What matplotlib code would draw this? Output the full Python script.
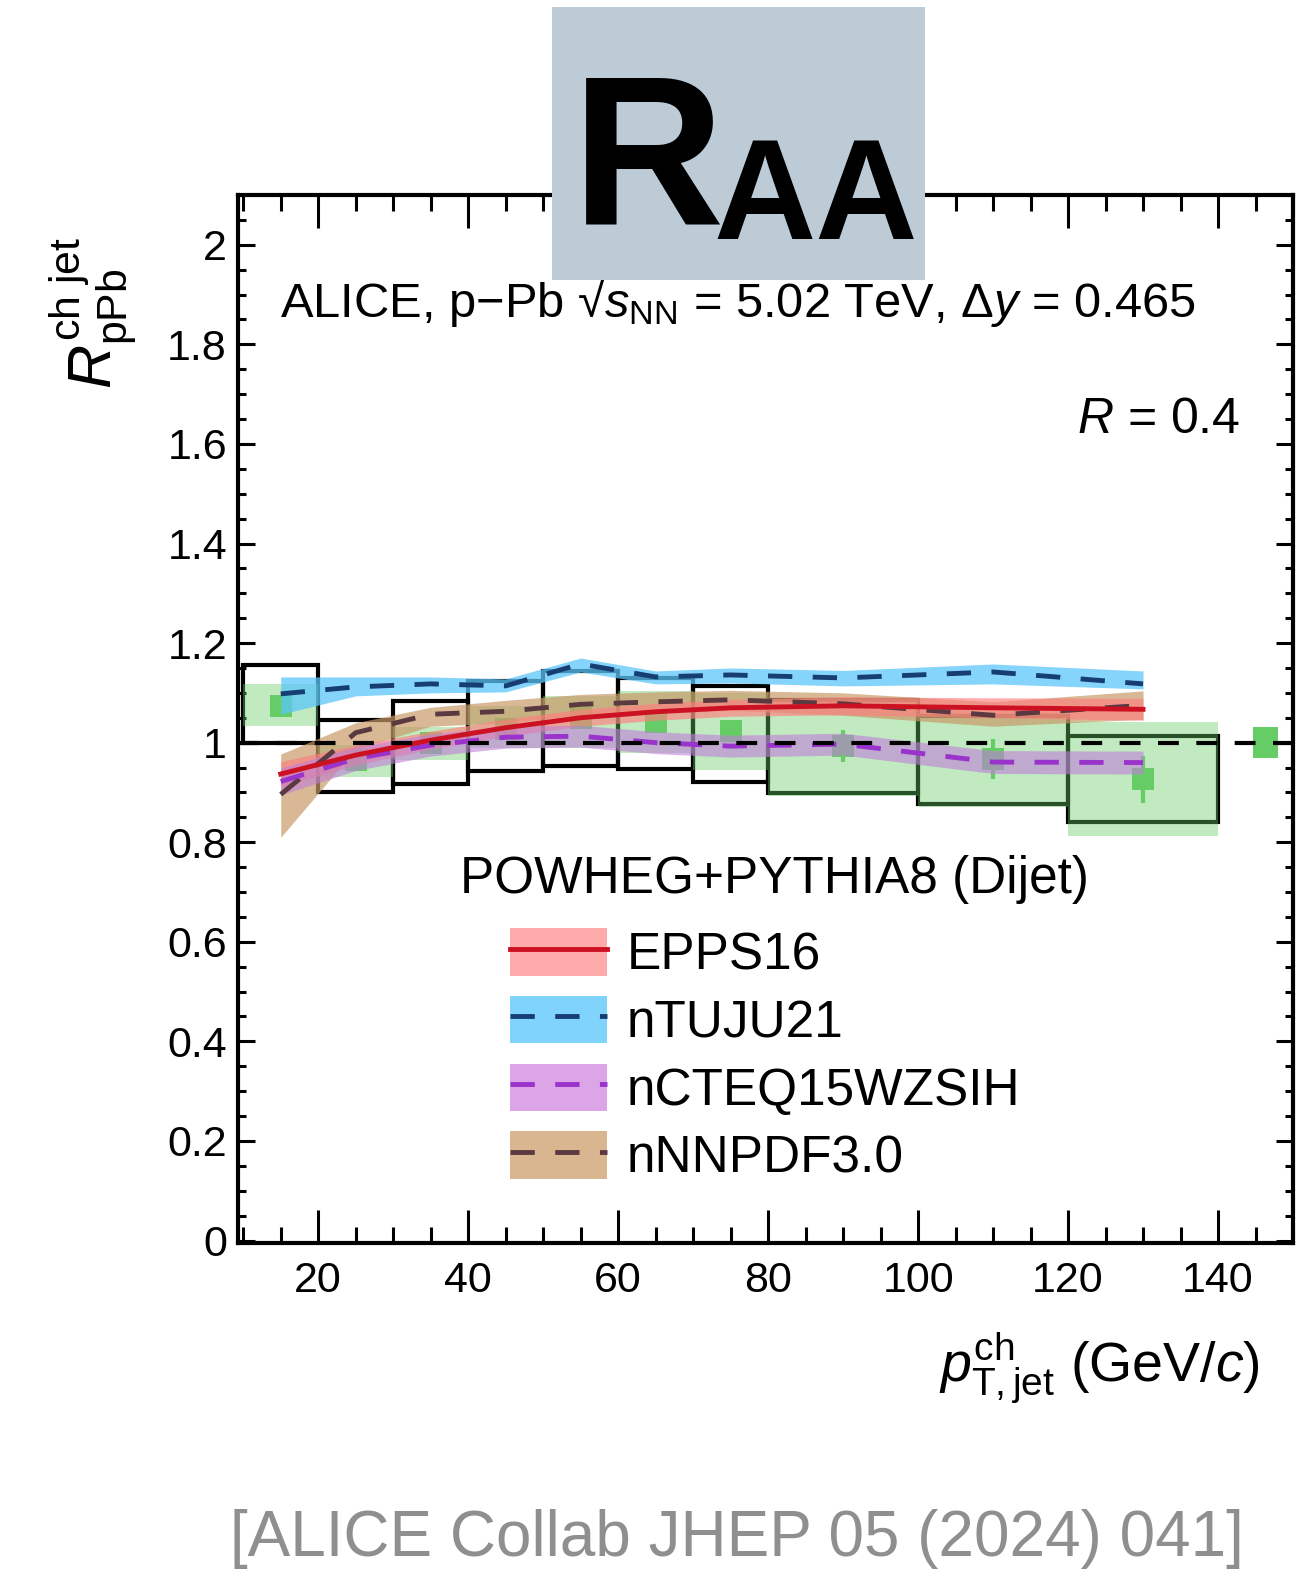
import numpy as np
import matplotlib
matplotlib.use("Agg")
import matplotlib.pyplot as plt
from matplotlib.patches import Rectangle, Patch
from matplotlib.lines import Line2D
from matplotlib.legend_handler import HandlerTuple
from matplotlib.ticker import MultipleLocator, FormatStrFormatter

plt.rcParams['font.family'] = ['Liberation Sans', 'DejaVu Sans']
plt.rcParams['mathtext.fontset'] = 'custom'
plt.rcParams['mathtext.rm'] = 'Liberation Sans'
plt.rcParams['mathtext.it'] = 'Liberation Sans:italic'
plt.rcParams['mathtext.bf'] = 'Liberation Sans:bold'

# jet pT bins (GeV/c)
bin_lo = [10, 20, 30, 40, 50, 60, 70, 80, 100, 120]
bin_hi = [20, 30, 40, 50, 60, 70, 80, 100, 120, 140]
pt_ctr = [15, 25, 35, 45, 55, 65, 75, 90, 110, 130]

# open black boxes
ref_lo = [1.000, 0.900, 0.916, 0.943, 0.953, 0.947, 0.920, 0.898, 0.877, 0.840]
ref_hi = [1.156, 1.045, 1.084, 1.124, 1.144, 1.130, 1.114, 1.086, 1.053, 1.013]

# measured R_pPb with stat. errors and syst. boxes
rppb = [1.073, 0.965, 0.999, 1.027, 1.049, 1.041, 1.023, 0.993, 0.967, 0.926]
stat = [0.005, 0.005, 0.005, 0.006, 0.007, 0.008, 0.010, 0.032, 0.041, 0.047]
sys_lo = [1.033, 0.932, 0.965, 0.990, 0.990, 0.980, 0.945, 0.892, 0.870, 0.812]
sys_hi = [1.118, 0.995, 1.031, 1.074, 1.094, 1.104, 1.100, 1.087, 1.060, 1.041]

# normalisation uncertainty box at unity
norm_x = 146.3
norm_unc = 0.031

# POWHEG+PYTHIA8 predictions
epps = [0.937, 0.975, 1.005, 1.030, 1.050, 1.062, 1.070, 1.074, 1.070, 1.067]
epps_err = [0.025, 0.020, 0.018, 0.017, 0.017, 0.017, 0.017, 0.018, 0.020, 0.022]

tuju = [1.098, 1.112, 1.118, 1.114, 1.158, 1.132, 1.136, 1.130, 1.142, 1.118]
tuju_lo = [1.057, 1.094, 1.100, 1.102, 1.142, 1.118, 1.120, 1.114, 1.118, 1.108]
tuju_hi = [1.132, 1.132, 1.132, 1.128, 1.170, 1.144, 1.150, 1.145, 1.158, 1.144]

cteq = [0.922, 0.968, 0.995, 1.011, 1.013, 1.000, 0.993, 0.997, 0.961, 0.960]
cteq_err = [0.027, 0.024, 0.022, 0.022, 0.022, 0.022, 0.022, 0.022, 0.023, 0.023]

nnpdf = [0.896, 1.020, 1.057, 1.063, 1.077, 1.082, 1.086, 1.078, 1.055, 1.075]
nnpdf_lo = [0.810, 0.987, 1.033, 1.040, 1.055, 1.060, 1.065, 1.055, 1.033, 1.047]
nnpdf_hi = [0.977, 1.040, 1.071, 1.085, 1.097, 1.102, 1.105, 1.100, 1.082, 1.104]

W, H = 1302, 1571
fig = plt.figure(figsize=(W / 100, H / 100), dpi=100)
ax = fig.add_axes([238 / W, 1 - 1243 / H, (1293 - 238) / W, (1243 - 195) / H])

green = '#66cc66'

# black open boxes
for lo, hi, ylo, yhi in zip(bin_lo, bin_hi, ref_lo, ref_hi):
    ax.add_patch(Rectangle((lo, ylo), hi - lo, yhi - ylo, fill=False,
                           edgecolor='black', lw=3, zorder=2))

# systematic boxes
for lo, hi, ylo, yhi in zip(bin_lo, bin_hi, sys_lo, sys_hi):
    ax.add_patch(Rectangle((lo, ylo), hi - lo, yhi - ylo, facecolor=green,
                           edgecolor='none', alpha=0.4, zorder=3))

ax.add_patch(Rectangle((norm_x - 1.7, 1 - norm_unc), 3.4, 2 * norm_unc,
                       facecolor=green, edgecolor='none', zorder=4))

# data points
ax.errorbar(pt_ctr, rppb, yerr=stat, fmt='s', color=green, ms=16,
            elinewidth=3, capsize=0, mew=0, zorder=4)

x = np.array(pt_ctr)
dash = (0, (5, 4.2))

# bands
ax.fill_between(x, np.array(nnpdf_lo), np.array(nnpdf_hi), color='#c99a68', alpha=0.7, lw=0, zorder=5)
ax.fill_between(x, np.array(epps) - epps_err, np.array(epps) + epps_err, color='#ff7f7f', alpha=0.65, lw=0, zorder=5)
ax.fill_between(x, np.array(cteq) - cteq_err, np.array(cteq) + cteq_err, color='#c07fd8', alpha=0.6, lw=0, zorder=5)
ax.fill_between(x, np.array(tuju_lo), np.array(tuju_hi), color='#5bc6fa', alpha=0.75, lw=0, zorder=5)

# central curves
ax.plot(x, nnpdf, color='#5a3a40', lw=3.5, ls=dash, zorder=6)
ax.plot(x, cteq, color='#9933cc', lw=3.5, ls=dash, zorder=6)
ax.plot(x, epps, color='#cc1122', lw=3.5, zorder=6)
ax.plot(x, tuju, color='#173d75', lw=3.5, ls=dash, zorder=6)

ax.axhline(1.0, color='black', lw=3, ls=dash, zorder=7)

ax.set_xlim(9.3, 150)
ax.set_ylim(-0.005, 2.1)

ax.xaxis.set_major_locator(MultipleLocator(20))
ax.xaxis.set_minor_locator(MultipleLocator(5))
ax.yaxis.set_major_locator(MultipleLocator(0.2))
ax.yaxis.set_minor_locator(MultipleLocator(0.05))
ax.yaxis.set_major_formatter(FormatStrFormatter('%g'))

for s in ax.spines.values():
    s.set_linewidth(3)
ax.tick_params(axis='x', which='major', direction='in', length=24, width=2.2,
               top=True, labelsize=31, pad=13)
ax.tick_params(axis='x', which='minor', direction='in', length=11.5, width=2.2, top=True)
ax.tick_params(axis='y', which='major', direction='in', length=12, width=2.2,
               right=True, labelsize=31, pad=8)
ax.tick_params(axis='y', which='minor', direction='in', length=6, width=2.2, right=True)

ax.text(0.040, 0.8836, 'ALICE, p\u2212Pb \u221a$s_{\\rm NN}$ = 5.02 TeV, \u0394$y$ = 0.465',
        transform=ax.transAxes, fontsize=35.2, va='baseline', ha='left', zorder=8)
ax.text(0.9498, 0.773, r'$R$ = 0.4', transform=ax.transAxes, fontsize=36,
        va='baseline', ha='right')

ax.text(-0.137, 0.96, r'$R_{\rm pPb}^{\rm ch\ jet}$', transform=ax.transAxes,
        fontsize=44, rotation=90, ha='center', va='top')
ax.text(0.9687, -0.1326, r'$p_{\rm T,jet}^{\rm ch}$ (GeV/$c$)', transform=ax.transAxes,
        fontsize=40, ha='right', va='baseline')

# legend: heading plus band+line entries
ax.text(0.21, 0.334, 'POWHEG+PYTHIA8 (Dijet)', transform=ax.transAxes,
        fontsize=37, ha='left', va='baseline', zorder=9)
handles = [
    (Patch(facecolor='#ffaaaa'), Line2D([], [], color='#cc1122', lw=3.5)),
    (Patch(facecolor='#80d4fc'), Line2D([], [], color='#173d75', lw=3.5, ls=dash)),
    (Patch(facecolor='#dba5e8'), Line2D([], [], color='#9933cc', lw=3.5, ls=dash)),
    (Patch(facecolor='#d9b590'), Line2D([], [], color='#5a3a40', lw=3.5, ls=dash)),
]
labels = ['EPPS16', 'nTUJU21', 'nCTEQ15WZSIH', 'nNNPDF3.0']
leg = ax.legend(handles, labels, handler_map={tuple: HandlerTuple(ndivide=1)},
                fontsize=37, frameon=False, loc='upper left',
                bbox_to_anchor=(0.258, 0.3006),
                borderpad=0, borderaxespad=0, handlelength=1.89, handleheight=1.05,
                handletextpad=0.38, labelspacing=0.30)
leg.set_zorder(9)

# label box across the top
fig.patches.append(Rectangle((552 / W, 1 - 280 / H), 373 / W, 273 / H,
                             transform=fig.transFigure, facecolor='#bccbd5',
                             edgecolor='none', zorder=10))
fig.text(572 / W, 1 - 223 / H, 'R', fontsize=152, fontweight='bold',
         ha='left', va='baseline', zorder=11)
fig.text(713 / W, 1 - 239 / H, 'AA', fontsize=102, fontweight='bold',
         ha='left', va='baseline', zorder=11)

fig.text(737 / W, 1 - 1556 / H, '[ALICE Collab JHEP 05 (2024) 041]',
         fontsize=46, color='#8f8f8f', ha='center', va='baseline',
         family=['Liberation Sans Narrow', 'Liberation Sans'])

fig.savefig('out.png', dpi=100)
